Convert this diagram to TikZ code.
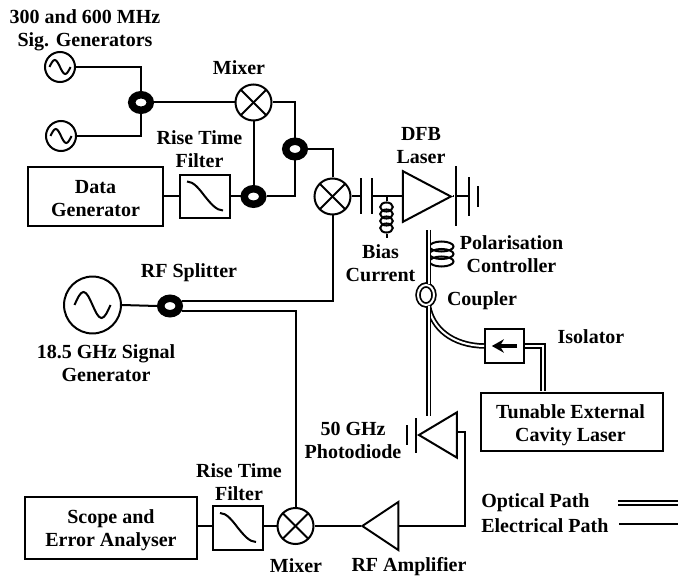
\documentclass[tikz,border=0pt]{standalone}
\usepackage{fontspec}
\setmainfont{Liberation Serif}
\usetikzlibrary{shapes.geometric,arrows.meta}

\newcommand{\sinewave}[3]{%
    \draw[wire] ([xshift=-#2*0.75pt]#1.center) sin ++({#2/2},{-#3}) cos ++({#2/2},{#3})
        sin ++({#2/2},{#3}) cos ++({#2/2},{-#3});}
\newcommand{\filtercurve}[1]{%
    \draw[wire] ([shift={(-18,-15)}]#1.center) cos ++(18,15) sin ++(18,14);}

\begin{document}
\begin{tikzpicture}[
    x=0.75pt, y=-0.75pt,
    every node/.style={font=\bfseries\fontsize{15}{17.3}\selectfont, align=center, inner sep=0pt},
    wire/.style={line width=1.5pt},
    optical/.style={line width=1.3pt, double, double distance=1.5pt},
    block/.style={rectangle, draw, wire, fill=white},
    source/.style={circle, draw, wire, fill=white, minimum size=#1},
    mixer/.style={circle, draw, wire, fill=white, minimum size=27pt,
                  path picture={
                      \draw[wire] (path picture bounding box.north west) -- (path picture bounding box.south east);
                      \draw[wire] (path picture bounding box.north east) -- (path picture bounding box.south west);}},
    splitter/.style={ellipse, draw, line width=5.6pt, fill=white,
                     minimum width=13.9pt, minimum height=11.6pt},
    filterbox/.style={block, minimum width=37.5pt, minimum height=32.5pt},
    plate/.style={rectangle, fill=black, minimum width=1.5pt, minimum height=#1},
    coilloop/.style={ellipse, draw, wire, minimum width=9.5pt, minimum height=6.8pt},
    polloop/.style={ellipse, draw, wire, minimum width=18pt, minimum height=7.5pt},
    amplifier/.style={isosceles triangle, isosceles triangle stretches, draw, wire,
                      fill=white, minimum height=#1},
]
\useasboundingbox (0,0) rectangle (678,577);

% ---------- Low frequency sources ----------
\node[source=22.5pt] (sigA) at (60,67) {};
\node[source=22.5pt] (sigB) at (61,136) {};
\sinewave{sigA}{10.5}{7}
\sinewave{sigB}{10.5}{7}
\node[splitter] (splitA) at (141,102.5) {};
\node[mixer] (mixA) at (253.5,102.5) {};
\node[splitter] (splitB) at (295,149) {};

% ---------- Data branch ----------
\node[block, minimum width=101pt, minimum height=44pt] (dataGen) at (95.5,196.5) {};
\node[filterbox] (filtA) at (205,196.5) {};
\filtercurve{filtA}
\node[splitter] (splitD) at (253.5,196.5) {};

% ---------- Modulator and laser ----------
\node[mixer] (mixB) at (332.5,196.5) {};
\node[plate=27pt] (capA) at (361,196.5) {};
\node[plate=27pt] (capB) at (372,196.5) {};
\coordinate (biasTap) at (386.5,196.5);
\node[coilloop] (coilA) at (386.5,207) {};
\node[coilloop] (coilB) at (386.5,214) {};
\node[coilloop] (coilC) at (386.5,221) {};
\node[coilloop] (coilD) at (386.5,228) {};
\coordinate (biasEnd) at (386.5,238);
\node[amplifier=36pt, isosceles triangle apex angle=56, minimum width=38pt, anchor=apex] (dfb) at (453,196.5) {};
\node[plate=45pt] (backA) at (455.5,196.5) {};
\node[plate=29pt] (backB) at (469,196.5) {};
\node[plate=16pt] (backC) at (478,196.5) {};

% ---------- 18.5 GHz source ----------
\node[source=42.7pt] (sigC) at (92.5,305) {};
\sinewave{sigC}{18}{13}
\node[splitter] (splitC) at (170,306) {};

% ---------- Optical part ----------
\coordinate (fibreTop) at (428.5,230);
\coordinate (fibreEnd) at (428.5,416);
\node[polloop] (polA) at (441.5,246.5) {};
\node[polloop] (polB) at (441.5,254) {};
\node[polloop] (polC) at (441.5,261.5) {};
\node[ellipse, draw, optical, fill=white, minimum width=12pt, minimum height=15pt] (coupler) at (426,295) {};
\node[block, minimum width=29pt, minimum height=26pt] (isolator) at (504.5,346) {};
\node[block, minimum width=136pt, minimum height=44pt] (tunable) at (572,422) {};
\coordinate (tunableIn) at (543,391);
\node[amplifier=28.5pt, isosceles triangle apex angle=62, minimum width=34pt, shape border rotate=180, anchor=apex] (pd) at (417,435) {};
\node[plate=26pt] (pdFront) at (416,435.5) {};
\node[plate=15pt] (pdBack) at (407,435) {};

% ---------- Receiver chain ----------
\coordinate (pdBend) at (465,526);
\node[amplifier=27pt, isosceles triangle apex angle=67, minimum width=36pt, shape border rotate=180, anchor=apex] (amp) at (360.5,526) {};
\node[mixer] (mixC) at (295.5,526) {};
\node[filterbox] (filtB) at (238,528) {};
\filtercurve{filtB}
\node[block, minimum width=129pt, minimum height=47pt] (scope) at (111,528) {};

% ---------- Electrical connections ----------
\draw[wire] (sigA.east) -| (splitA.north);
\draw[wire] (sigB.east) -| (splitA.south);
\draw[wire] (splitA.east) -- (mixA.west);
\draw[wire] (mixA.east) -| (splitB.north);
\draw[wire] (splitB.east) -| (mixB.north);
\draw[wire] (dataGen.east) -- (filtA.west);
\draw[wire] (filtA.east) -- (splitD.west);
\draw[wire] (splitD.north) -- (mixA.south);
\draw[wire] (splitD.east) -| (splitB.south);
\draw[wire] (mixB.east) -- (capA.west);
\draw[wire] (capB.east) -- (dfb.lower side);
\draw[wire] (biasTap) -- (coilA.north);
\draw[wire] (coilD.south) -- (biasEnd);
\draw[wire] (dfb.apex) -- (backA.west);
\draw[wire] (backA.east) -- (backB.west);
\draw[wire] (sigC.east) -- (splitC.west);
\draw[wire] (splitC.23) -| (mixB.south);
\draw[wire] (splitC.-23) -| (mixC.north);
\draw[wire] ([yshift=2.25pt]pd.lower side) -| (pdBend) -- (amp.lower side);
\draw[wire] (amp.apex) -- (mixC.east);
\draw[wire] (mixC.west) -- (filtB.east |- mixC.west);
\draw[wire] (filtB.west |- mixC.west) -- (scope.east |- mixC.west);

% ---------- Optical connections ----------
\draw[optical] (fibreTop) -- (fibreTop |- coupler.north);
\draw[optical] (coupler.south -| fibreEnd) .. controls (432,328) and (452,345.5) .. (isolator.west);
\draw[optical] (coupler.south -| fibreEnd) -- (fibreEnd);
\draw[optical] (isolator.east) -| (tunableIn);
\draw[-{Stealth[length=9pt,width=10pt]}, line width=2.4pt] ([xshift=9.5pt]isolator.center) -- ([xshift=-9.5pt]isolator.center);

% ---------- Labels ----------
\node (sigLabel) at (85,30.5) {300 and 600 MHz\\Sig. Generators};
\node (mixLabelA) at (239,68) {Mixer};
\node (filtLabelA) at (199.5,149.5) {Rise Time\\Filter};
\node (dataLabel) at (95.5,199) {Data\\Generator};
\node (dfbLabel) at (421,145.5) {DFB\\Laser};
\node (biasLabel) at (380.5,263.5) {Bias\\Current};
\node (polLabel) at (511.5,254.5) {Polarisation\\Controller};
\node (couplerLabel) at (482,301) {Coupler};
\node (isoLabel) at (591,337) {Isolator};
\node (tunableLabel) at (570.5,425) {Tunable External\\Cavity Laser};
\node (rfLabel) at (189,273) {RF Splitter};
\node (sigCLabel) at (106,363.5) {18.5 GHz Signal\\Generator};
\node (pdLabel) at (353,440.5) {50 GHz\\Photodiode};
\node (filtLabelB) at (239,482) {Rise Time\\Filter};
\node (scopeLabel) at (111,530) {Scope and\\Error Analyser};
\node (mixLabelC) at (296,566) {Mixer};
\node (ampLabel) at (409,567) {RF Amplifier};

% ---------- Legend ----------
\node[anchor=west] (optLabel) at (481,503) {Optical Path};
\node[anchor=west] (elecLabel) at (481,526) {Electrical Path};
\coordinate (optA) at (618,503);
\coordinate (optB) at (678,503);
\coordinate (elecA) at (619,524);
\coordinate (elecB) at (678,524);
\draw[optical] (optA) -- (optB);
\draw[wire] (elecA) -- (elecB);

\end{tikzpicture}
\end{document}
